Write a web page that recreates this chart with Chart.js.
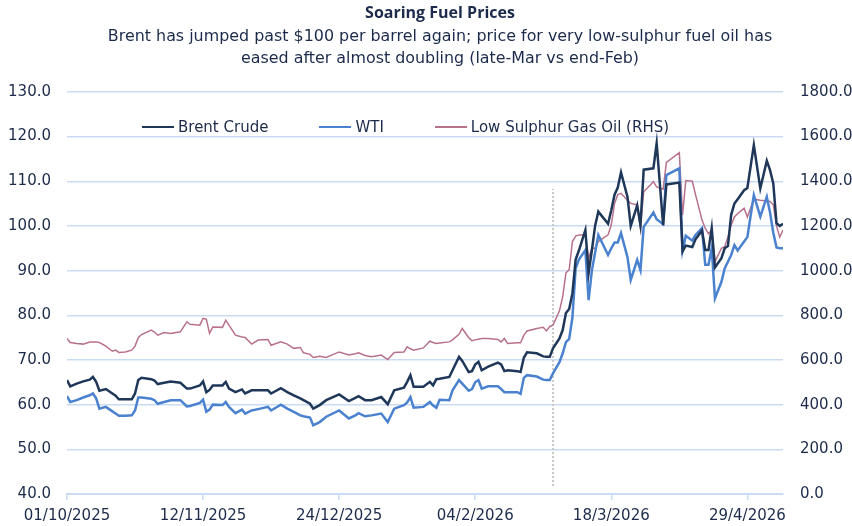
<!DOCTYPE html>
<html lang="en">
<head>
<meta charset="UTF-8">
<title>Soaring Fuel Prices</title>
<script src="https://cdn.jsdelivr.net/npm/chart.js"></script>
<style>
    html, body { margin: 0; padding: 0; background: #ffffff; }
    .chart-container { position: relative; width: 852px; height: 526px; overflow: hidden; }
    #legend {
        position: absolute;
        left: 142px;
        top: 118px;
        display: flex;
        gap: 51px;
        font-family: "DejaVu Sans", sans-serif;
        font-size: 15px;
        line-height: 18px;
        color: #1c2b4b;
    }
    .legend-item { display: flex; align-items: center; }
    .legend-line { width: 32px; margin-right: 4px; }
</style>
</head>
<body>
<div class="chart-container">
    <canvas id="fuel-chart" width="852" height="526"></canvas>
    <div id="legend"></div>
</div>
<script>
// days since 01/10/2025
const days = [
    0, 1, 3, 5, 7, 8, 9, 10, 12, 14, 15, 16, 18, 20, 21, 22, 23, 26, 27, 28,
    30, 32, 35, 37, 38, 41, 42, 43, 44, 45, 48, 49, 50, 52, 54, 55, 57, 59, 62, 63,
    66, 68, 70, 72, 73, 75, 76, 78, 80, 84, 87, 89, 90, 92, 94, 97, 99, 101, 104, 105,
    106, 107, 110, 112, 113, 114, 115, 118, 119, 121, 122, 124, 125, 126, 127, 128, 130, 133, 134, 135,
    136, 139, 140, 141, 142, 145, 147, 148, 149, 150, 152, 153, 154, 155, 156, 157, 158, 160, 161, 162,
    163, 164, 167, 168, 169, 170, 171, 173, 174, 176, 177, 178, 181, 182, 184, 185, 189, 190, 191, 193,
    194, 196, 197, 198, 199, 200, 202, 203, 204, 205, 206, 207, 209, 210, 212, 214, 216, 217, 218, 219,
    220, 221
];

const brent = [
    65.5, 64.1, 64.7, 65.2, 65.6, 66.2, 65.1, 63.1, 63.5, 62.5, 62.0, 61.2, 61.2, 61.2, 62.5, 65.5, 66.0, 65.7, 65.4, 64.6,
    64.9, 65.2, 64.9, 63.6, 63.6, 64.3, 65.2, 62.8, 63.3, 64.3, 64.3, 65.1, 63.6, 62.8, 63.4, 62.5, 63.2, 63.2, 63.2, 62.5,
    63.7, 62.8, 62.1, 61.4, 61.0, 60.2, 59.1, 59.9, 61.0, 62.3, 60.8, 61.5, 61.9, 61.0, 61.0, 61.7, 60.1, 63.2, 63.8, 65.1,
    66.6, 64.0, 64.0, 65.1, 64.3, 65.7, 65.8, 66.2, 67.7, 70.7, 69.8, 67.3, 67.5, 69.0, 69.6, 67.7, 68.5, 69.4, 69.0, 67.5,
    67.7, 67.5, 67.3, 70.5, 71.7, 71.5, 70.8, 70.7, 70.7, 72.6, 74.8, 76.7, 80.5, 81.4, 84.9, 92.5, 94.5, 99.1, 89.5, 94.5,
    100.0, 103.2, 100.5, 103.5, 107.0, 108.6, 112.0, 106.5, 100.0, 104.6, 100.2, 112.6, 112.9, 118.5, 100.2, 109.3, 109.7, 94.3, 95.6, 95.3,
    97.0, 99.0, 94.6, 94.6, 99.5, 90.7, 92.8, 95.0, 95.5, 102.5, 105.0, 106.0, 108.0, 108.5, 118.1, 108.4, 114.6, 112.5, 109.5, 100.6,
    100.0, 100.5
];

const wti = [
    61.9, 60.6, 61.0, 61.6, 62.1, 62.5, 61.4, 59.1, 59.5, 58.5, 58.0, 57.5, 57.5, 57.6, 58.7, 61.6, 61.6, 61.3, 61.0, 60.2,
    60.6, 61.0, 61.0, 59.6, 59.7, 60.4, 61.1, 58.4, 58.9, 60.0, 59.9, 60.6, 59.5, 58.1, 58.9, 58.0, 58.7, 59.0, 59.5, 58.7,
    60.0, 59.1, 58.4, 57.6, 57.4, 57.1, 55.4, 56.1, 57.3, 58.7, 56.9, 57.6, 58.1, 57.4, 57.6, 58.0, 56.1, 59.1, 59.9, 60.5,
    61.7, 59.3, 59.5, 60.6, 59.8, 59.3, 61.1, 61.0, 63.2, 65.5, 64.7, 63.1, 63.5, 65.0, 65.5, 63.6, 64.1, 64.1, 63.5, 62.8,
    62.8, 62.8, 62.4, 66.0, 66.6, 66.3, 65.6, 65.5, 65.5, 67.0, 69.5, 71.5, 74.0, 74.7, 79.5, 90.5, 92.5, 94.6, 83.4, 90.0,
    94.0, 98.0, 93.5, 95.0, 96.3, 96.3, 98.4, 93.0, 87.9, 92.4, 90.1, 99.8, 103.0, 101.5, 100.4, 111.4, 112.9, 94.5, 97.8, 96.7,
    98.0, 99.5, 91.3, 91.3, 95.0, 83.8, 87.5, 90.5, 92.0, 93.5, 95.7, 94.5, 96.5, 97.5, 106.9, 102.1, 106.5, 103.0, 98.5, 95.2,
    95.0, 95.0
];

// RHS axis
const gasOil = [
    696, 678, 674, 671, 680, 681, 681, 678, 662, 639, 644, 634, 636, 644, 662, 700, 714, 734, 725, 711,
    723, 719, 726, 771, 760, 756, 786, 783, 719, 748, 746, 778, 756, 711, 703, 701, 671, 689, 692, 666,
    681, 671, 652, 656, 632, 625, 611, 617, 611, 636, 622, 628, 632, 620, 614, 622, 602, 634, 636, 659,
    650, 644, 654, 684, 678, 674, 676, 681, 690, 715, 741, 700, 686, 690, 693, 696, 696, 692, 681, 696,
    674, 677, 677, 710, 730, 741, 746, 730, 750, 756, 820, 883, 990, 1004, 1130, 1155, 1160, 1160, 1055, 1100,
    1100, 1130, 1160, 1205, 1300, 1340, 1346, 1315, 1301, 1294, 1189, 1353, 1398, 1375, 1364, 1484, 1528, 1249, 1403, 1400,
    1340, 1226, 1190, 1165, 1182, 1040, 1100, 1107, 1150, 1204, 1240, 1256, 1279, 1240, 1320, 1315, 1312, 1310, 1295, 1200,
    1150, 1182
];

const tickDays = [0, 42, 84, 126, 168, 210];
const tickLabels = ['01/10/2025', '12/11/2025', '24/12/2025', '04/2/2026', '18/3/2026', '29/4/2026'];

// dotted marker at end-Feb
const markerDays = [150, 150];
const markerValues = [41.8, 108.3];

const textColor = '#1c2b4b';
const gridColor = '#c9dcf3';

Chart.defaults.font.family = '"DejaVu Sans", sans-serif';
Chart.defaults.color = textColor;

function toPoints(xs, ys) {
    return xs.map((x, i) => ({ x: x, y: ys[i] }));
}

// legend drawn as html so it can sit inside the plot under the top gridline
const htmlLegend = {
    id: 'htmlLegend',
    afterUpdate(chart) {
        const box = document.getElementById('legend');
        box.innerHTML = '';
        chart.data.datasets.forEach(ds => {
            if (ds.hideInLegend) return;
            const item = document.createElement('div');
            item.className = 'legend-item';
            const line = document.createElement('span');
            line.className = 'legend-line';
            line.style.height = ds.borderWidth + 'px';
            line.style.background = ds.borderColor;
            const text = document.createElement('span');
            text.textContent = ds.label;
            item.appendChild(line);
            item.appendChild(text);
            box.appendChild(item);
        });
    }
};

const ctx = document.getElementById('fuel-chart').getContext('2d');

new Chart(ctx, {
    type: 'line',
    data: {
        datasets: [
            {
                label: 'Brent Crude',
                data: toPoints(days, brent),
                borderColor: '#1f3759',
                borderWidth: 2.5,
                pointRadius: 0,
                tension: 0,
                yAxisID: 'y'
            },
            {
                label: 'WTI',
                data: toPoints(days, wti),
                borderColor: '#4a82cf',
                borderWidth: 2.5,
                pointRadius: 0,
                tension: 0,
                yAxisID: 'y'
            },
            {
                label: 'Low Sulphur Gas Oil (RHS)',
                data: toPoints(days, gasOil),
                borderColor: '#b8718b',
                borderWidth: 1.5,
                pointRadius: 0,
                tension: 0,
                yAxisID: 'y2'
            },
            {
                label: 'end-Feb',
                hideInLegend: true,
                data: toPoints(markerDays, markerValues),
                borderColor: '#c8c8c8',
                borderWidth: 2,
                borderDash: [2, 2],
                pointRadius: 0,
                yAxisID: 'y'
            }
        ]
    },
    plugins: [htmlLegend],
    options: {
        responsive: false,
        animation: false,
        layout: {
            // titles in the source are centred a bit right of the canvas middle
            padding: { left: 0, right: -28, top: 0, bottom: 0 }
        },
        plugins: {
            title: {
                display: true,
                text: 'Soaring Fuel Prices',
                color: textColor,
                font: { family: '"Open Sans", sans-serif', size: 16, weight: 'bold', lineHeight: 1.2 },
                padding: { top: 4, bottom: 0 }
            },
            subtitle: {
                display: true,
                text: [
                    'Brent has jumped past $100 per barrel again; price for very low-sulphur fuel oil has',
                    'eased after almost doubling (late-Mar vs end-Feb)'
                ],
                color: textColor,
                font: { size: 15.9, lineHeight: 1.4 },
                padding: { top: 2.4, bottom: 21.8 }
            },
            legend: { display: false },
            tooltip: { enabled: false }
        },
        scales: {
            x: {
                type: 'linear',
                min: 0,
                max: 221,
                afterBuildTicks: scale => {
                    scale.ticks = tickDays.map(v => ({ value: v }));
                },
                afterFit: scale => { scale.height = 32; },
                ticks: {
                    autoSkip: false,
                    maxRotation: 0,
                    padding: 7,
                    font: { size: 15 },
                    callback: (value, index) => tickLabels[index]
                },
                grid: {
                    drawOnChartArea: false,
                    drawTicks: true,
                    tickLength: 6,
                    color: gridColor,
                    lineWidth: 1.5
                },
                border: { display: true, color: gridColor, width: 2 }
            },
            y: {
                position: 'left',
                min: 40,
                max: 130,
                afterFit: scale => { scale.width = 67; },
                ticks: {
                    stepSize: 10,
                    padding: 16,
                    font: { size: 15 },
                    callback: value => value.toFixed(1)
                },
                grid: { color: gridColor, lineWidth: 1.5, drawTicks: false },
                border: { display: false }
            },
            y2: {
                position: 'right',
                min: 0,
                max: 1800,
                afterFit: scale => { scale.width = 97; },
                ticks: {
                    stepSize: 200,
                    padding: 17,
                    font: { size: 15 },
                    callback: value => value.toFixed(1)
                },
                grid: { drawOnChartArea: false, drawTicks: false },
                border: { display: false }
            }
        }
    }
});
</script>
</body>
</html>
